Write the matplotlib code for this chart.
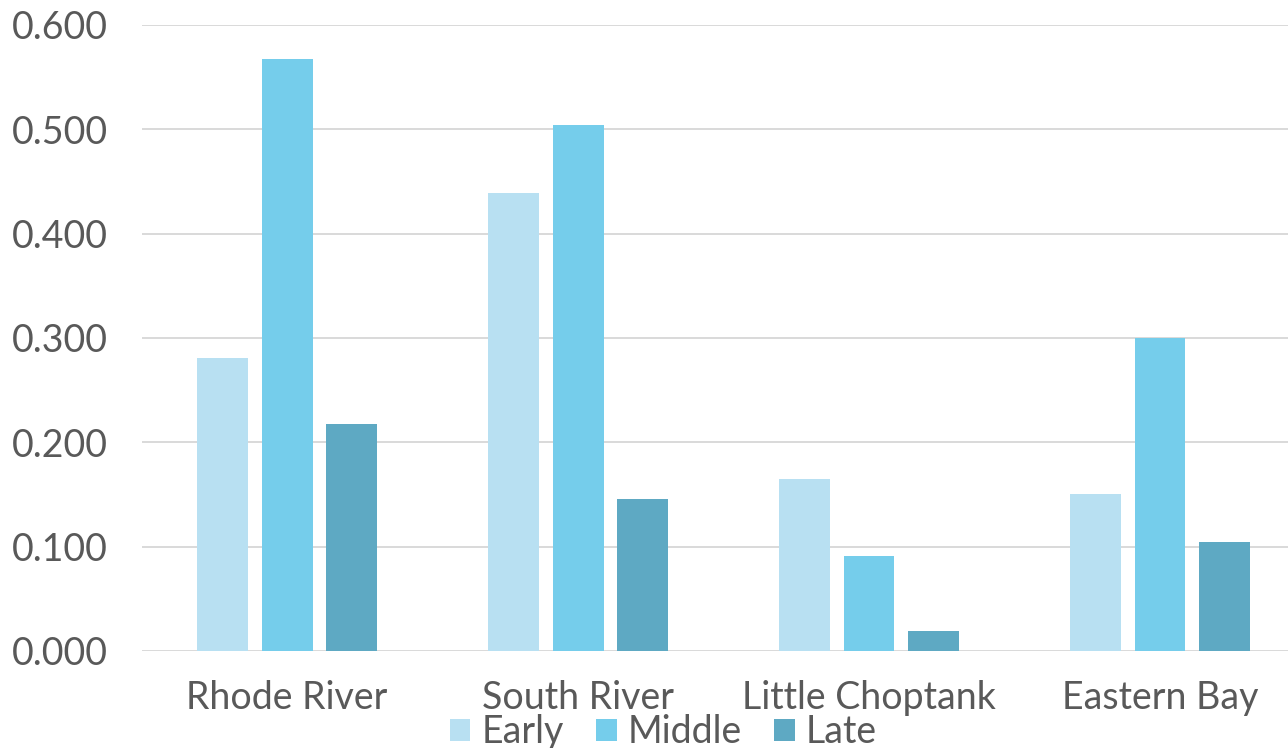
import matplotlib.pyplot as plt
import numpy as np

categories = ["Rhode River", "South River", "Little Choptank", "Eastern Bay"]
series = ["Early", "Middle", "Late"]
early = [0.281, 0.439, 0.165, 0.150]
middle = [0.567, 0.504, 0.091, 0.300]
late = [0.218, 0.146, 0.019, 0.104]
colors = ["#B8E0F2", "#75CDEB", "#5EA9C3"]
yticks = [0.0, 0.1, 0.2, 0.3, 0.4, 0.5, 0.6]

plt.rcParams["font.family"] = ["Lato", "DejaVu Sans"]
text_color = "#595959"

fig = plt.figure(figsize=(12.88, 7.48), dpi=100)
# the plot area runs a little past the right edge of the picture
ax = fig.add_axes([0.1099, 0.1297, 0.9037, 0.8369])

x = np.arange(len(categories))
width = 0.175
step = 0.222
for i, (name, vals) in enumerate(zip(series, [early, middle, late])):
    ax.bar(x + (i - 1) * step, vals, width, color=colors[i], label=name, zorder=3)

ax.set_xlim(-0.5, 3.5)
ax.set_ylim(0, 0.6)
ax.set_yticks(yticks)
ax.set_yticklabels([f"{v:.3f}" for v in yticks])
ax.set_xticks(x)
ax.set_xticklabels(categories)
ax.tick_params(axis="both", length=0, labelsize=27, colors=text_color)
ax.tick_params(axis="y", pad=24)
ax.tick_params(axis="x", pad=21)
ax.grid(axis="y", color="#D9D9D9", lw=1.4, zorder=0)
for s in ax.spines.values():
    s.set_visible(False)

fig.legend(loc="center", bbox_to_anchor=(0.515, 0.021), ncol=3,
           frameon=False, fontsize=27, labelcolor=text_color, handlelength=0.55,
           handleheight=0.55, handletextpad=0.3, columnspacing=0.85, borderpad=0)

fig.savefig("out.png", dpi=100)
